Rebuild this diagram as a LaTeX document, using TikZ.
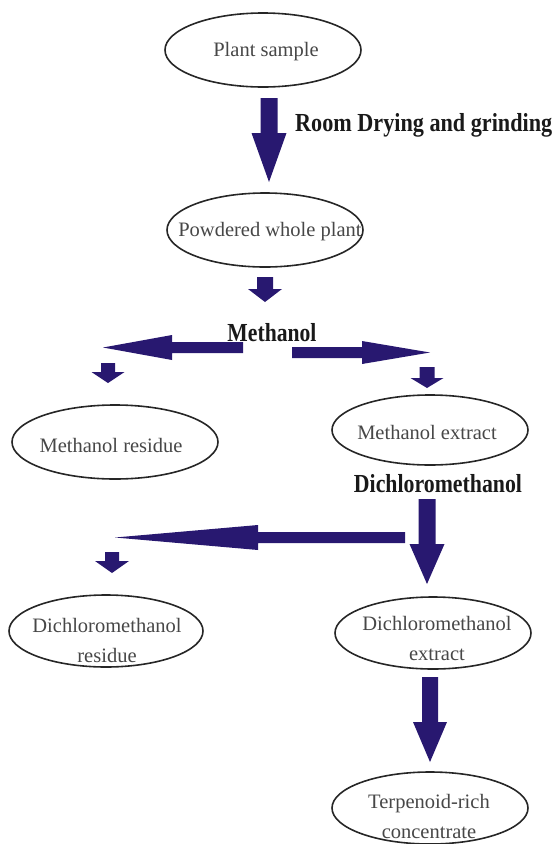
\documentclass[tikz,border=0pt]{standalone}
\usepackage{fontspec}
\usepackage{graphicx}
\setmainfont{Liberation Serif}
\usetikzlibrary{shapes.geometric,calc}
\definecolor{navy}{RGB}{40,24,112}
\newcommand\blockarrow[5]{% #1 tail, #2 tip, #3 half shaft, #4 half head, #5 head length
  \path ($(#2)!#5!(#1)$) coordinate (bahead);
  \fill[navy] ($(#1)!#3!90:(#2)$) -- ($(bahead)!#3!90:(#2)$) -- ($(bahead)!#4!90:(#2)$) -- (#2)
    -- ($(bahead)!#4!-90:(#2)$) -- ($(bahead)!#3!-90:(#2)$) -- ($(#1)!#3!-90:(#2)$) -- cycle;
}
\tikzset{
  ell/.style={draw=black!85, line width=1.6pt, ellipse, inner sep=0pt},
  etxt/.style={font=\fontsize{20.5}{30}\selectfont, text=black!72, align=center, inner sep=0pt},
  lbl/.style={font=\fontsize{26}{30}\selectfont\bfseries, text=black!90, inner sep=0pt},
}
\begin{document}
\begin{tikzpicture}[x=1pt,y=-1pt]
\useasboundingbox (0,0) rectangle (552,844);
% ellipses
\node[ell, minimum width=196pt, minimum height=74pt] (ps) at (263,50) {};
\node[etxt] (pst) at (266,52) {Plant sample};
\node[ell, minimum width=196pt, minimum height=74pt] (pw) at (265,230) {};
\node[etxt] (pwt) at (270,232) {Powdered whole plant};
\node[ell, minimum width=206pt, minimum height=74pt] (mr) at (115,442) {};
\node[etxt] (mrt) at (111,445) {Methanol residue};
\node[ell, minimum width=196pt, minimum height=70pt] (me) at (430,430) {};
\node[etxt] (met) at (427,432) {Methanol extract};
\node[ell, minimum width=194pt, minimum height=72pt] (dr) at (106,631) {};
\node[etxt] (drt) at (107,640) {Dichloromethanol\\residue};
\node[ell, minimum width=196pt, minimum height=72pt] (de) at (433,633) {};
\node[etxt] (det) at (437,638) {Dichloromethanol\\extract};
\node[ell, minimum width=196pt, minimum height=72pt] (tc) at (430,808) {};
\node[etxt] (tct) at (429,816) {Terpenoid-rich\\concentrate};
% labels
\node[lbl, anchor=west] (l1) at (295,125) {\resizebox{257pt}{\height}{Room Drying and grinding}};
\node[lbl] (l2) at (272,333) {\resizebox{89pt}{\height}{Methanol}};
\node[lbl] (l3) at (438,484) {\resizebox{168pt}{\height}{Dichloromethanol}};
% arrow end points
\coordinate (a1t) at (269,98);   \coordinate (a1h) at (269,182);
\coordinate (a2t) at (265,277);  \coordinate (a2h) at (265,302);
\coordinate (a3t) at (243,347.5);\coordinate (a3h) at (103,347.5);
\coordinate (a4t) at (292,352.5);\coordinate (a4h) at (430,352.5);
\coordinate (a5t) at (108,363);  \coordinate (a5h) at (108,383);
\coordinate (a6t) at (427,367);  \coordinate (a6h) at (427,388);
\coordinate (a7t) at (427,499);  \coordinate (a7h) at (427,584);
\coordinate (a8t) at (405,537.5);\coordinate (a8h) at (115,537.5);
\coordinate (a9t) at (112,552);  \coordinate (a9h) at (112,573);
\coordinate (a10t) at (430,677); \coordinate (a10h) at (430,762);
\blockarrow{a1t}{a1h}{8.5pt}{17.5pt}{49pt}
\blockarrow{a2t}{a2h}{8pt}{17pt}{13pt}
\blockarrow{a3t}{a3h}{5.5pt}{12.5pt}{69pt}
\blockarrow{a4t}{a4h}{5.5pt}{11.5pt}{68pt}
\blockarrow{a5t}{a5h}{7pt}{16.5pt}{11pt}
\blockarrow{a6t}{a6h}{7.5pt}{16.5pt}{10pt}
\blockarrow{a7t}{a7h}{8.5pt}{17.5pt}{40pt}
\blockarrow{a8t}{a8h}{5.5pt}{12.5pt}{143pt}
\blockarrow{a9t}{a9h}{7pt}{17pt}{12pt}
\blockarrow{a10t}{a10h}{8pt}{17pt}{40pt}
\end{tikzpicture}
\end{document}
